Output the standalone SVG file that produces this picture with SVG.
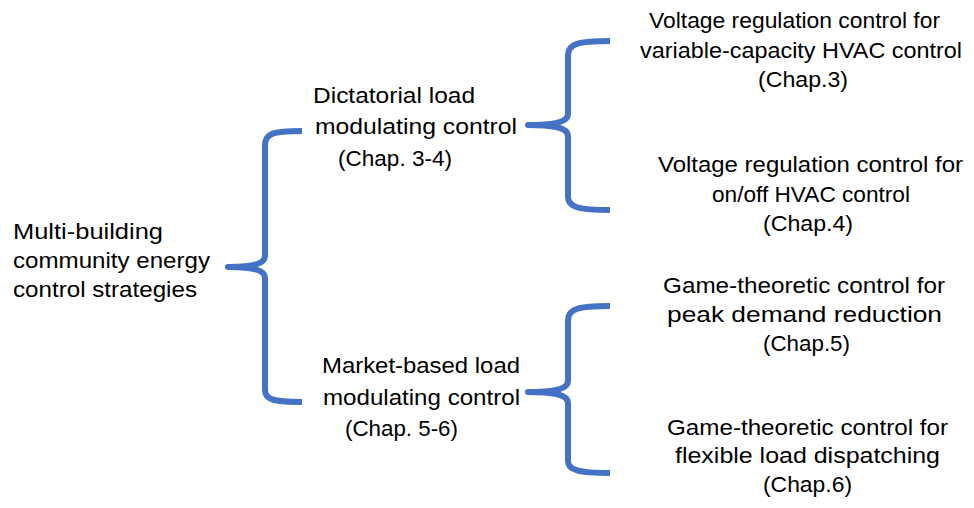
<svg xmlns="http://www.w3.org/2000/svg" width="974" height="508" viewBox="0 0 974 508">
<style>
text{font-family:"Liberation Sans",Arial,sans-serif;font-size:22px;fill:#000}
.brace{fill:none;stroke:#4472C4;stroke-width:6;stroke-linecap:butt;stroke-linejoin:round}
</style>
<rect width="974" height="508" fill="#fff"/>
<g id="connectors">
<path class="brace" d="M302,131 C272,131 265,134 265,145 L265,256 C265,264 252,267 228,267 C252,267 265,270 265,278 L265,390 C265,399 272,402 302,402"/>
<path class="brace" d="M610,41 C578,41 568,44 568,55 L568,114 C568,122 555,125 528,125 C555,125 568,128 568,136 L568,197 C568,207 578,210 610,210"/>
<path class="brace" d="M610,306 C578,306 568,309 568,320 L568,381 C568,389 555,392 528,392 C555,392 568,395 568,403 L568,461 C568,470 578,473 610,473"/>
</g>
<g id="root">
<text x="13" y="239" textLength="150" lengthAdjust="spacingAndGlyphs">Multi-building</text>
<text x="13" y="268" textLength="197" lengthAdjust="spacingAndGlyphs">community energy</text>
<text x="13" y="297" textLength="184" lengthAdjust="spacingAndGlyphs">control strategies</text>
</g>
<g id="dictatorial">
<text x="313" y="103" textLength="162" lengthAdjust="spacingAndGlyphs">Dictatorial load</text>
<text x="315" y="134" textLength="202" lengthAdjust="spacingAndGlyphs">modulating control</text>
<text x="338" y="166" textLength="114" lengthAdjust="spacingAndGlyphs">(Chap. 3-4)</text>
</g>
<g id="market">
<text x="322" y="373" textLength="198" lengthAdjust="spacingAndGlyphs">Market-based load</text>
<text x="323" y="405" textLength="197" lengthAdjust="spacingAndGlyphs">modulating control</text>
<text x="345" y="436" textLength="113" lengthAdjust="spacingAndGlyphs">(Chap. 5-6)</text>
</g>
<g id="chap3">
<text x="649" y="28" textLength="291" lengthAdjust="spacingAndGlyphs">Voltage regulation control for</text>
<text x="640" y="58" textLength="322" lengthAdjust="spacingAndGlyphs">variable-capacity HVAC control</text>
<text x="758" y="87" textLength="90" lengthAdjust="spacingAndGlyphs">(Chap.3)</text>
</g>
<g id="chap4">
<text x="658" y="172" textLength="305" lengthAdjust="spacingAndGlyphs">Voltage regulation control for</text>
<text x="712" y="202" textLength="198" lengthAdjust="spacingAndGlyphs">on/off HVAC control</text>
<text x="763" y="231" textLength="90" lengthAdjust="spacingAndGlyphs">(Chap.4)</text>
</g>
<g id="chap5">
<text x="663" y="293" textLength="282" lengthAdjust="spacingAndGlyphs">Game-theoretic control for</text>
<text x="667" y="322" textLength="275" lengthAdjust="spacingAndGlyphs">peak demand reduction</text>
<text x="763" y="351" textLength="87" lengthAdjust="spacingAndGlyphs">(Chap.5)</text>
</g>
<g id="chap6">
<text x="667" y="435" textLength="281" lengthAdjust="spacingAndGlyphs">Game-theoretic control for</text>
<text x="675" y="463" textLength="265" lengthAdjust="spacingAndGlyphs">flexible load dispatching</text>
<text x="763" y="492" textLength="89" lengthAdjust="spacingAndGlyphs">(Chap.6)</text>
</g>
</svg>
